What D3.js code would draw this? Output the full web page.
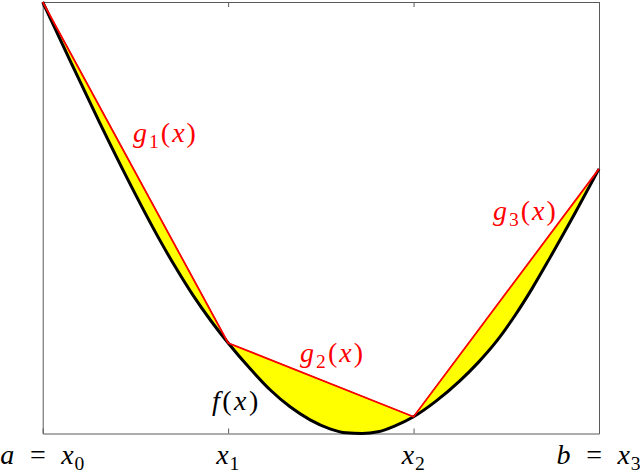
<!DOCTYPE html>
<html>
<head>
<meta charset="utf-8">
<script src="https://cdn.jsdelivr.net/npm/d3@7"></script>
<style>
  html, body { margin: 0; padding: 0; background: #fff; }
  svg { display: block; }
</style>
</head>
<body>
<svg id="chart" width="640" height="475"></svg>
<script>
// ---- data ----
const curveT = [0, 0.147, 0.305, 0.460, 0.618, 0.714, 0.811, 0.908, 1.0,
  1.118, 1.226, 1.334, 1.442, 1.549, 1.636, 1.722, 1.808, 1.900, 2.0,
  2.121, 2.248, 2.348, 2.450, 2.547, 2.639, 2.736, 2.871, 3.0];
const curveF = [1.0, 0.8647, 0.7221, 0.5877, 0.4586, 0.3868, 0.3200, 0.2607, 0.2097,
  0.1504, 0.1013, 0.0619, 0.0317, 0.0109, 0.0016, 0.0, 0.0039, 0.0178, 0.0389,
  0.0751, 0.1214, 0.1643, 0.2151, 0.2735, 0.3358, 0.4076, 0.5108, 0.6132];
const nodeT = [0, 1, 2, 3];
const nodeF = [1.0, 0.2097, 0.0389, 0.6132];
const tickLabels = ["a = x_0", "x_1", "x_2", "b = x_3"];
const segLabels = ["g_1(x)", "g_2(x)", "g_3(x)"];
const segLabelT = [0.487, 1.388, 2.428];
const segLabelF = [0.6755, 0.1657, 0.4948];
const fLabel = "f(x)";
const fLabelT = 0.913, fLabelF = 0.0545;

// ---- pick an installed serif font ----
function pickFont(cands) {
  const c = document.createElement("canvas").getContext("2d");
  const probe = "xgfab()=0123";
  for (const f of cands) {
    c.font = `italic 40px monospace`;
    const w0 = c.measureText(probe).width;
    c.font = `italic 40px '${f}', monospace`;
    const w1 = c.measureText(probe).width;
    if (Math.abs(w1 - w0) > 0.5) return `'${f}'`;
  }
  return "serif";
}
const FONT = pickFont(["Liberation Serif", "DejaVu Serif", "Noto Serif", "Times New Roman", "Tinos"]);

// ---- layout ----
const svg = d3.select("#chart");
const L = 42.7, R = 599, T = 2, B = 433.5;
const x = d3.scaleLinear().domain([0, 3]).range([L, R]);
const y = d3.scaleLinear().domain([0, 1]).range([B, T]);

const pts = curveT.map((t, i) => ({ t, f: curveF[i] }));

function chord(k, t) {
  const t0 = nodeT[k], t1 = nodeT[k + 1];
  const a = (t - t0) / (t1 - t0);
  return nodeF[k] * (1 - a) + nodeF[k + 1] * a;
}

// yellow fills between f and the piecewise linear interpolant
for (let k = 0; k < nodeT.length - 1; k++) {
  const sub = pts.filter(p => p.t >= nodeT[k] - 1e-9 && p.t <= nodeT[k + 1] + 1e-9);
  const area = d3.area()
    .x(p => x(p.t))
    .y0(p => y(chord(k, p.t)))
    .y1(p => y(p.f))
    .curve(d3.curveMonotoneX);
  svg.append("path")
    .attr("d", area(sub))
    .attr("fill", "#ffff00")
    .attr("stroke", "#000")
    .attr("stroke-width", 0.8);
}

// axes box
function axisG(gen, tx, ty) {
  const g = svg.append("g").attr("transform", `translate(${tx},${ty})`).call(gen);
  g.select(".domain").attr("stroke", "#5a5a5a").attr("stroke-width", 1);
  g.selectAll(".tick line").attr("stroke", "#5a5a5a").attr("stroke-width", 1);
  g.selectAll(".tick text").remove();
  return g;
}
axisG(d3.axisBottom(x).tickValues(nodeT).tickSizeInner(-5).tickSizeOuter(0).tickFormat(""), 0, B);
axisG(d3.axisTop(x).tickValues(nodeT).tickSizeInner(-5).tickSizeOuter(0).tickFormat(""), 0, T);
axisG(d3.axisLeft(y).tickValues([]).tickSizeOuter(0), L, 0);
axisG(d3.axisRight(y).tickValues([]).tickSizeOuter(0), R, 0);

// f(x) curve
const line = d3.line().x(p => x(p.t)).y(p => y(p.f)).curve(d3.curveMonotoneX);
svg.append("path")
  .attr("d", line(pts))
  .attr("fill", "none")
  .attr("stroke", "#000")
  .attr("stroke-width", 3)
  .attr("stroke-linejoin", "round");

// g_k lines
const nodes = nodeT.map((t, i) => ({ t, f: nodeF[i] }));
svg.append("path")
  .attr("d", d3.line().x(p => x(p.t)).y(p => y(p.f))(nodes))
  .attr("fill", "none")
  .attr("stroke", "#ff0000")
  .attr("stroke-width", 1.8)
  .attr("stroke-linejoin", "miter");

// math-like text renderer: letters italic, digits/symbols upright, _ = subscript
function mathText(sel, str, size) {
  let shift = 0;
  for (let i = 0; i < str.length; i++) {
    let ch = str[i];
    let sub = false;
    if (ch === "_") { sub = true; i++; ch = str[i]; }
    const ts = sel.append("tspan").text(ch === " " ? "\u2002" : ch)
      .style("font-family", FONT);
    if (/[a-zA-Z]/.test(ch)) ts.style("font-style", "italic");
    if (sub) {
      ts.style("font-size", (size * 0.7) + "px").attr("dy", size * 0.22 - shift);
      shift = size * 0.22;
    } else if (shift) {
      ts.attr("dy", -shift);
      shift = 0;
    }
  }
}

const FS = 28;
function makeText(px, py, anchor, color, ls) {
  return svg.append("text")
    .attr("x", px).attr("y", py)
    .attr("text-anchor", anchor)
    .style("font-family", FONT).style("font-size", FS + "px")
    .attr("letter-spacing", ls)
    .attr("fill", color);
}
// tick labels
nodeT.forEach((t, i) => mathText(makeText(x(t), 464, "middle", "#000", 0.8), tickLabels[i], FS));
// segment labels
segLabels.forEach((s, i) =>
  mathText(makeText(x(segLabelT[i]), y(segLabelF[i]), "start", "#ff0000", 2), s, FS));
mathText(makeText(x(fLabelT), y(fLabelF), "start", "#000", 2.5), fLabel, FS);
</script>
</body>
</html>
